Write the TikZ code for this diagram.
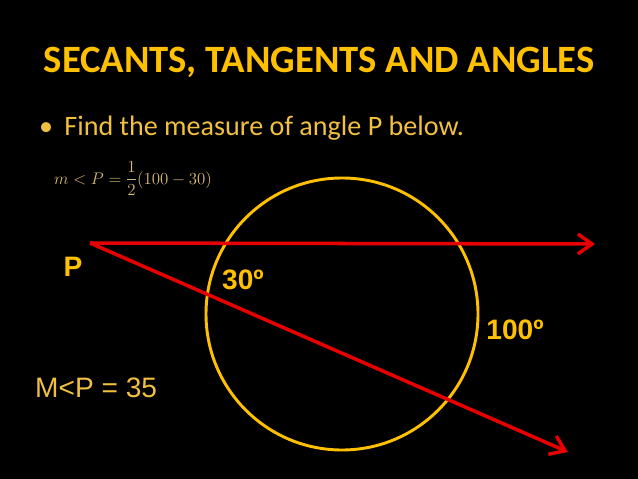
\documentclass[tikz,border=0pt]{standalone}
\usepackage{fontspec}
\usepackage{amsmath}
\usetikzlibrary{arrows.meta}
\newfontfamily\slidefont{Carlito}
\newfontfamily\labelfont{Liberation Sans}
\definecolor{gold}{RGB}{255,192,0}
\definecolor{paleGold}{RGB}{242,192,64}
\definecolor{mathGold}{RGB}{215,185,115}
\definecolor{lineRed}{RGB}{230,0,0}

\begin{document}
\begin{tikzpicture}[x=0.03cm, y=-0.03cm,
	secant/.style={draw=lineRed, line width=3pt, -{Straight Barb[length=12pt, width=17pt, line width=3pt]}},
	lbl/.style={text=gold, font=\labelfont\bfseries\fontsize{24}{26}\selectfont, inner sep=0pt}]
	\fill[black] (0,0) rectangle (638,479);
	\useasboundingbox (0,0) rectangle (638,479);

	\node[text=gold, font=\slidefont\bfseries\fontsize{33}{36}\selectfont, inner sep=0pt, anchor=base] (title) at (319, 72) {SECANTS, TANGENTS AND ANGLES};
	\node[text=paleGold, font=\slidefont\fontsize{24}{28}\selectfont, inner sep=0pt, anchor=base west] (task) at (39, 135) {\textbullet\hspace{0.4em}Find the measure of angle P below.};
	\node[text=mathGold, font=\fontsize{15.3}{17}\selectfont, inner sep=0pt, anchor=base west] (rule) at (54, 184) {$m < P = \dfrac{1}{2}(100 - 30)$};

	\draw[gold, line width=2.5pt] (342, 314) circle (136);

	\coordinate (P) at (90, 243);
	\coordinate (topEnd) at (595, 244);
	\coordinate (lowEnd) at (568, 452);
	\draw[secant] (P) -- (topEnd);
	\draw[secant] (P) -- (lowEnd);

	\node[lbl] (labelP) at (73, 267) {P};
	\node[lbl] (arcSmall) at (243, 280) {30º};
	\node[lbl] (arcLarge) at (515, 330) {100º};
	\node[text=paleGold, font=\labelfont\fontsize{24}{26}\selectfont, inner sep=0pt, anchor=west] (answer) at (35, 388) {M<P = 35};
\end{tikzpicture}
\end{document}
